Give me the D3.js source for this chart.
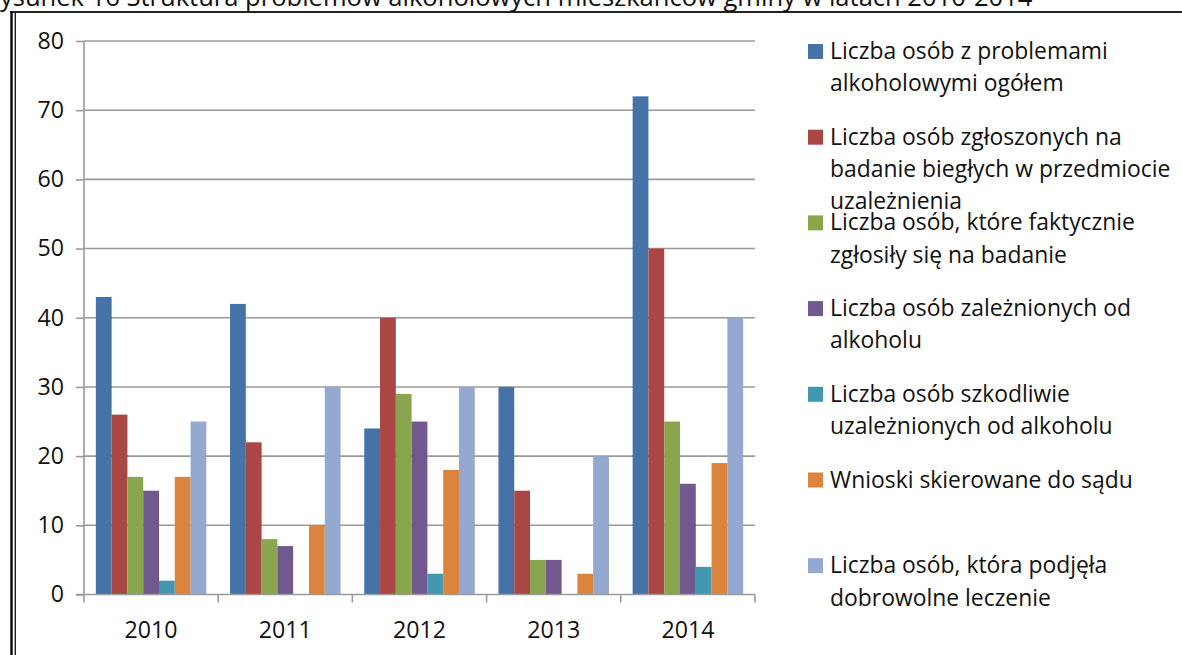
<!DOCTYPE html>
<html>
<head>
<meta charset="utf-8">
<script src="https://cdn.jsdelivr.net/npm/d3@7"></script>
<style>
  html, body { margin: 0; padding: 0; background: #fff; }
  svg { display: block; }
</style>
</head>
<body>
<svg id="chart" width="1182" height="655"></svg>
<script>
// ---------- DATA ----------
const categories = ["2010", "2011", "2012", "2013", "2014"];
const yTicks = [0, 10, 20, 30, 40, 50, 60, 70, 80];

const osobyOgolem        = [43, 42, 24, 30, 72];
const osobyZgloszone     = [26, 22, 40, 15, 50];
const osobyFaktycznie    = [17, 8, 29, 5, 25];
const osobyZaleznione    = [15, 7, 25, 5, 16];
const osobySzkodliwie    = [2, 0, 3, 0, 4];
const wnioskiDoSadu      = [17, 10, 18, 3, 19];
const osobyDobrowolnie   = [25, 30, 30, 20, 40];

const seriesLabels = [
  ["Liczba osób z problemami", "alkoholowymi ogółem"],
  ["Liczba osób zgłoszonych na", "badanie biegłych w przedmiocie", "uzależnienia"],
  ["Liczba osób, które faktycznie", "zgłosiły się na badanie"],
  ["Liczba osób zależnionych od", "alkoholu"],
  ["Liczba osób szkodliwie", "uzależnionych od alkoholu"],
  ["Wnioski skierowane do sądu"],
  ["Liczba osób, która podjęła", "dobrowolne leczenie"]
];
const seriesColors = ["#4572A7", "#AA4643", "#89A54E", "#71588F", "#4198AF", "#DB843D", "#93A9CF"];
const titleText = "Rysunek 16 Struktura problemów alkoholowych mieszkańców gminy w latach 2010-2014";

const seriesValues = [osobyOgolem, osobyZgloszone, osobyFaktycznie, osobyZaleznione,
                      osobySzkodliwie, wnioskiDoSadu, osobyDobrowolnie];

// ---------- SETUP ----------
const svg = d3.select("#chart");
const FONT = "'Open Sans', 'DejaVu Sans', sans-serif";

function measure(text, size) {
  const t = svg.append("text").attr("font-family", FONT).attr("font-size", size).text(text);
  const w = t.node().getComputedTextLength();
  t.remove();
  return w;
}
function fitSize(text, target) { return 100 * target / measure(text, 100); }

const legendSize = fitSize("Liczba osób zgłoszonych na", 292);
const tickSize = fitSize("2010", 53);
const titleSize = fitSize(titleText.slice(1), 1033);

// ---------- FRAME ----------
const frame = svg.append("g");
frame.append("line").attr("x1", 10).attr("x2", 1182).attr("y1", 12).attr("y2", 12)
  .attr("stroke", "#222").attr("stroke-width", 2);
frame.append("line").attr("x1", 11.5).attr("x2", 11.5).attr("y1", 11).attr("y2", 655)
  .attr("stroke", "#111").attr("stroke-width", 2.5);
frame.append("line").attr("x1", 15.3).attr("x2", 15.3).attr("y1", 13).attr("y2", 655)
  .attr("stroke", "#111").attr("stroke-width", 1.3);

// title (clipped at top as in the reference)
svg.append("text")
  .attr("x", -measure(titleText[0], titleSize))
  .attr("y", 5.5)
  .attr("font-family", FONT).attr("font-size", titleSize).attr("fill", "#111")
  .text(titleText);

// ---------- SCALES ----------
const plot = { left: 84, right: 755, top: 41, bottom: 594.5 };
const x0 = d3.scaleBand().domain(categories).range([plot.left, plot.right]).paddingInner(0).paddingOuter(0);
const x1 = d3.scaleBand().domain(d3.range(seriesValues.length))
  .range([0, x0.bandwidth()]).paddingInner(0).paddingOuter(0.75);
const y = d3.scaleLinear().domain([0, 80]).range([plot.bottom, plot.top]);

const GRID = "#9a9a9a";

// gridlines + y axis
const yAxis = d3.axisLeft(y).tickValues(yTicks).tickSize(8).tickPadding(12).tickFormat(d3.format("d"));
const gy = svg.append("g").attr("transform", `translate(${plot.left},0)`).call(yAxis);
gy.select(".domain").remove();
gy.selectAll(".tick line").attr("stroke", GRID).attr("stroke-width", 1.6);
gy.selectAll(".tick text").attr("font-family", FONT).attr("font-size", tickSize).attr("fill", "#111");

svg.append("g").selectAll("line").data(yTicks.filter(d => d !== 0)).join("line")
  .attr("x1", plot.left).attr("x2", plot.right)
  .attr("y1", d => y(d)).attr("y2", d => y(d))
  .attr("stroke", GRID).attr("stroke-width", 1.6);

// y axis line
svg.append("line").attr("x1", plot.left).attr("x2", plot.left).attr("y1", plot.top).attr("y2", plot.bottom)
  .attr("stroke", GRID).attr("stroke-width", 1.6);

// ---------- BARS ----------
const groups = svg.append("g").selectAll("g").data(categories).join("g")
  .attr("transform", d => `translate(${x0(d)},0)`);
groups.selectAll("rect")
  .data((c, ci) => seriesValues.map((vals, si) => ({ si, v: vals[ci] })))
  .join("rect")
  .attr("x", d => x1(d.si))
  .attr("width", x1.bandwidth())
  .attr("y", d => y(d.v))
  .attr("height", d => y(0) - y(d.v))
  .attr("fill", d => seriesColors[d.si]);

// ---------- X AXIS ----------
const xAxisLine = svg.append("g");
xAxisLine.append("line").attr("x1", plot.left - 8).attr("x2", plot.right)
  .attr("y1", plot.bottom).attr("y2", plot.bottom).attr("stroke", GRID).attr("stroke-width", 1.6);
const boundaries = categories.map(c => x0(c)).concat([plot.right]);
xAxisLine.selectAll("line.tk").data(boundaries).join("line").attr("class", "tk")
  .attr("x1", d => d).attr("x2", d => d).attr("y1", plot.bottom).attr("y2", plot.bottom + 8)
  .attr("stroke", GRID).attr("stroke-width", 1.6);
xAxisLine.selectAll("text").data(categories).join("text")
  .attr("x", d => x0(d) + x0.bandwidth() / 2)
  .attr("y", 638)
  .attr("text-anchor", "middle")
  .attr("font-family", FONT).attr("font-size", tickSize).attr("fill", "#111")
  .text(d => d);

// ---------- LEGEND ----------
const legend = svg.append("g");
const firstBaseline = 59, entryStep = 85.7, lineStep = 32.3;
seriesLabels.forEach((lines, i) => {
  const b = firstBaseline + i * entryStep;
  legend.append("rect").attr("x", 808).attr("y", b - 15).attr("width", 15).attr("height", 15)
    .attr("fill", seriesColors[i]);
  lines.forEach((ln, j) => {
    legend.append("text").attr("x", 830).attr("y", b + j * lineStep)
      .attr("font-family", FONT).attr("font-size", legendSize).attr("fill", "#111")
      .text(ln);
  });
});
</script>
</body>
</html>
